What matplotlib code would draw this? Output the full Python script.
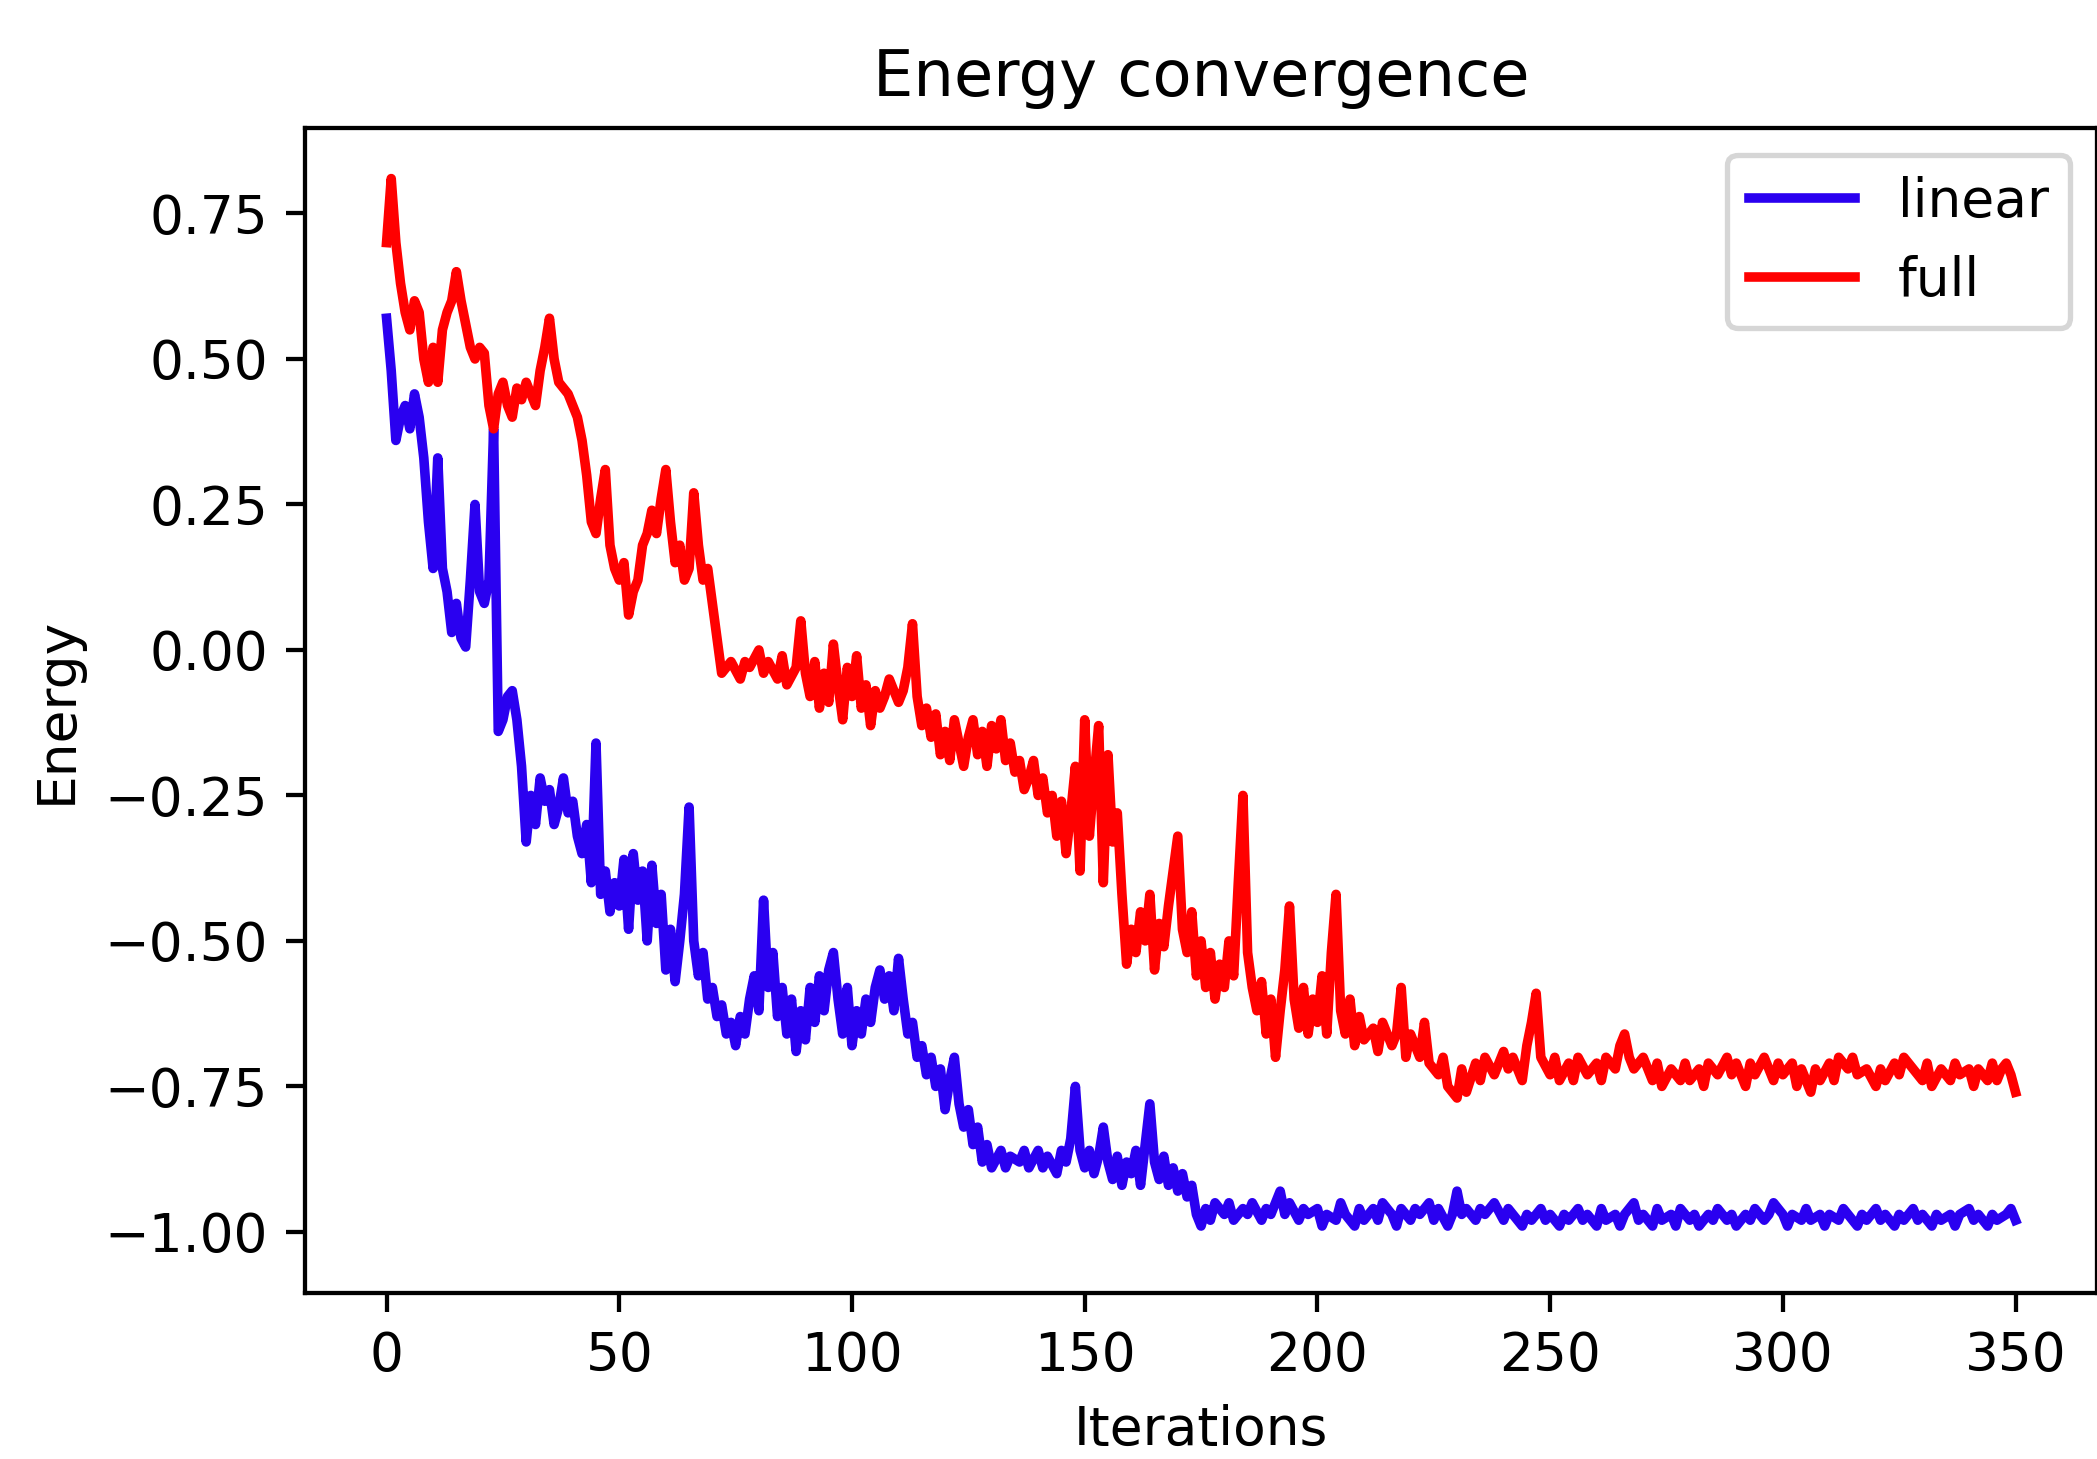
import matplotlib
matplotlib.use("Agg")
import matplotlib.pyplot as plt

# iteration / energy pairs
full_it = [0, 1, 2, 3, 4, 5, 6, 7, 8, 9, 10, 11, 12, 13, 14, 15, 16, 17, 18, 19,
           20, 21, 22, 23, 24, 25, 26, 27, 28, 29, 30, 31, 32, 33, 34, 35, 36, 37, 38, 39,
           40, 41, 42, 43, 44, 45, 46, 47, 48, 49, 50, 51, 52, 53, 54, 55, 56, 57, 58, 59,
           60, 61, 62, 63, 64, 65, 66, 67, 68, 69, 70, 71, 72, 74, 76, 77, 78, 80, 81, 82,
           84, 85, 86, 88, 89, 90, 91, 92, 93, 94, 95, 96, 97, 98, 99, 100, 101, 102, 103, 104,
           105, 106, 107, 108, 110, 111, 112, 113, 114, 115, 116, 117, 118, 119, 120, 121, 122, 123, 124, 125,
           126, 127, 128, 129, 130, 131, 132, 133, 134, 135, 136, 137, 138, 139, 140, 141, 142, 143, 144, 145,
           146, 147, 148, 149, 150, 151, 152, 153, 154, 155, 156, 157, 158, 159, 160, 161, 162, 163, 164, 165,
           166, 167, 168, 169, 170, 171, 172, 173, 174, 175, 176, 177, 178, 179, 180, 181, 182, 183, 184, 185,
           186, 187, 188, 189, 190, 191, 192, 193, 194, 195, 196, 197, 198, 199, 200, 201, 202, 203, 204, 205,
           206, 207, 208, 209, 210, 212, 213, 214, 216, 217, 218, 219, 220, 222, 223, 224, 226, 227, 228, 230,
           231, 232, 234, 235, 236, 238, 240, 241, 242, 244, 245, 246, 247, 248, 250, 251, 252, 254, 255, 256,
           258, 260, 261, 262, 264, 265, 266, 267, 268, 270, 272, 273, 274, 276, 278, 279, 280, 282, 283, 284,
           286, 288, 289, 290, 292, 293, 294, 296, 298, 299, 300, 302, 303, 304, 306, 307, 308, 310, 311, 312,
           314, 315, 316, 318, 320, 321, 322, 324, 325, 326, 328, 330, 331, 332, 334, 336, 337, 338, 340, 341,
           342, 344, 345, 346, 347, 348, 349, 350]
full_energy = [0.70, 0.81, 0.70, 0.63, 0.58, 0.55, 0.60, 0.58, 0.50, 0.46, 0.52, 0.46, 0.55, 0.58, 0.60, 0.65, 0.60, 0.56, 0.52, 0.50,
               0.52, 0.51, 0.42, 0.38, 0.44, 0.46, 0.42, 0.40, 0.45, 0.43, 0.46, 0.44, 0.42, 0.48, 0.52, 0.57, 0.50, 0.46, 0.45, 0.44,
               0.42, 0.40, 0.36, 0.30, 0.22, 0.20, 0.26, 0.31, 0.18, 0.14, 0.12, 0.15, 0.06, 0.10, 0.12, 0.18, 0.20, 0.24, 0.20, 0.26,
               0.31, 0.22, 0.15, 0.18, 0.12, 0.14, 0.27, 0.18, 0.12, 0.14, 0.08, 0.02, -0.04, -0.02, -0.05, -0.02, -0.03, 0.00, -0.04, -0.02,
               -0.05, -0.01, -0.06, -0.03, 0.05, -0.04, -0.08, -0.02, -0.10, -0.04, -0.09, 0.01, -0.06, -0.12, -0.03, -0.08, -0.01, -0.10, -0.06, -0.13,
               -0.07, -0.10, -0.08, -0.05, -0.09, -0.07, -0.03, 0.045, -0.08, -0.13, -0.10, -0.15, -0.11, -0.18, -0.14, -0.19, -0.12, -0.16, -0.20, -0.15,
               -0.12, -0.18, -0.14, -0.20, -0.13, -0.17, -0.12, -0.19, -0.16, -0.21, -0.19, -0.24, -0.22, -0.19, -0.25, -0.22, -0.28, -0.25, -0.32, -0.26,
               -0.35, -0.28, -0.20, -0.38, -0.12, -0.32, -0.22, -0.13, -0.40, -0.18, -0.33, -0.28, -0.42, -0.54, -0.48, -0.52, -0.45, -0.50, -0.42, -0.55,
               -0.47, -0.51, -0.44, -0.38, -0.32, -0.48, -0.52, -0.45, -0.56, -0.50, -0.58, -0.52, -0.60, -0.54, -0.58, -0.50, -0.56, -0.40, -0.25, -0.52,
               -0.58, -0.62, -0.57, -0.66, -0.60, -0.70, -0.62, -0.55, -0.44, -0.60, -0.65, -0.58, -0.66, -0.60, -0.64, -0.56, -0.66, -0.52, -0.42, -0.62,
               -0.66, -0.60, -0.68, -0.63, -0.67, -0.65, -0.69, -0.64, -0.68, -0.66, -0.58, -0.70, -0.66, -0.70, -0.64, -0.71, -0.73, -0.70, -0.75, -0.77,
               -0.72, -0.76, -0.71, -0.74, -0.70, -0.73, -0.69, -0.72, -0.70, -0.74, -0.68, -0.64, -0.59, -0.70, -0.73, -0.70, -0.74, -0.71, -0.74, -0.70,
               -0.73, -0.71, -0.74, -0.70, -0.72, -0.68, -0.66, -0.70, -0.72, -0.70, -0.74, -0.71, -0.75, -0.72, -0.74, -0.71, -0.74, -0.72, -0.75, -0.71,
               -0.73, -0.70, -0.73, -0.71, -0.75, -0.71, -0.73, -0.70, -0.74, -0.71, -0.73, -0.71, -0.75, -0.72, -0.76, -0.72, -0.74, -0.71, -0.74, -0.70,
               -0.72, -0.70, -0.73, -0.72, -0.75, -0.72, -0.74, -0.71, -0.73, -0.70, -0.72, -0.74, -0.71, -0.75, -0.72, -0.74, -0.71, -0.73, -0.72, -0.75,
               -0.72, -0.74, -0.71, -0.74, -0.72, -0.71, -0.73, -0.76]

linear_it = [0, 1, 2, 3, 4, 5, 6, 7, 8, 9, 10, 11, 12, 13, 14, 15, 16, 17, 18, 19,
             20, 21, 22, 23, 24, 25, 26, 27, 28, 29, 30, 31, 32, 33, 34, 35, 36, 37, 38, 39,
             40, 41, 42, 43, 44, 45, 46, 47, 48, 49, 50, 51, 52, 53, 54, 55, 56, 57, 58, 59,
             60, 61, 62, 63, 64, 65, 66, 67, 68, 69, 70, 71, 72, 73, 74, 75, 76, 77, 78, 79,
             80, 81, 82, 83, 84, 85, 86, 87, 88, 89, 90, 91, 92, 93, 94, 95, 96, 97, 98, 99,
             100, 101, 102, 103, 104, 105, 106, 107, 108, 109, 110, 111, 112, 113, 114, 115, 116, 117, 118, 119,
             120, 121, 122, 123, 124, 125, 126, 127, 128, 129, 130, 132, 133, 134, 136, 137, 138, 140, 141, 142,
             144, 145, 146, 147, 148, 149, 150, 151, 152, 153, 154, 155, 156, 157, 158, 159, 160, 161, 162, 163,
             164, 165, 166, 167, 168, 169, 170, 171, 172, 173, 174, 175, 176, 177, 178, 180, 181, 182, 184, 185,
             186, 188, 189, 190, 192, 193, 194, 196, 197, 198, 200, 201, 202, 204, 205, 206, 208, 209, 210, 212,
             213, 214, 216, 217, 218, 220, 221, 222, 224, 225, 226, 228, 229, 230, 231, 232, 234, 235, 236, 238,
             240, 241, 242, 244, 245, 246, 248, 249, 250, 252, 253, 254, 256, 257, 258, 260, 261, 262, 264, 265,
             266, 268, 269, 270, 272, 273, 274, 276, 277, 278, 280, 281, 282, 284, 285, 286, 288, 289, 290, 292,
             293, 294, 296, 297, 298, 300, 301, 302, 304, 305, 306, 308, 309, 310, 312, 313, 314, 316, 317, 318,
             320, 321, 322, 324, 325, 326, 328, 329, 330, 332, 333, 334, 336, 337, 338, 340, 341, 342, 344, 345,
             346, 348, 349, 350]
linear_energy = [0.57, 0.48, 0.36, 0.40, 0.42, 0.38, 0.44, 0.40, 0.33, 0.22, 0.14, 0.33, 0.14, 0.10, 0.03, 0.08, 0.02, 0.005, 0.12, 0.25,
                 0.10, 0.08, 0.12, 0.38, -0.14, -0.12, -0.08, -0.07, -0.12, -0.20, -0.33, -0.25, -0.30, -0.22, -0.26, -0.24, -0.30, -0.27, -0.22, -0.28,
                 -0.26, -0.32, -0.35, -0.30, -0.40, -0.16, -0.42, -0.38, -0.45, -0.40, -0.44, -0.36, -0.48, -0.35, -0.43, -0.38, -0.50, -0.37, -0.47, -0.42,
                 -0.55, -0.48, -0.57, -0.50, -0.42, -0.27, -0.50, -0.56, -0.52, -0.60, -0.58, -0.63, -0.61, -0.66, -0.64, -0.68, -0.63, -0.66, -0.60, -0.56,
                 -0.62, -0.43, -0.58, -0.52, -0.63, -0.58, -0.66, -0.60, -0.69, -0.62, -0.67, -0.58, -0.64, -0.56, -0.62, -0.55, -0.52, -0.60, -0.66, -0.58,
                 -0.68, -0.62, -0.66, -0.60, -0.64, -0.58, -0.55, -0.60, -0.56, -0.62, -0.53, -0.60, -0.66, -0.64, -0.70, -0.68, -0.73, -0.70, -0.75, -0.72,
                 -0.79, -0.74, -0.70, -0.78, -0.82, -0.79, -0.85, -0.82, -0.88, -0.85, -0.89, -0.86, -0.89, -0.87, -0.88, -0.86, -0.89, -0.86, -0.89, -0.87,
                 -0.90, -0.86, -0.88, -0.84, -0.75, -0.86, -0.89, -0.86, -0.90, -0.87, -0.82, -0.88, -0.91, -0.87, -0.92, -0.88, -0.90, -0.86, -0.92, -0.85,
                 -0.78, -0.88, -0.91, -0.87, -0.92, -0.89, -0.93, -0.90, -0.94, -0.92, -0.97, -0.99, -0.96, -0.98, -0.95, -0.97, -0.95, -0.98, -0.96, -0.97,
                 -0.95, -0.98, -0.96, -0.97, -0.93, -0.97, -0.95, -0.98, -0.96, -0.97, -0.96, -0.99, -0.97, -0.98, -0.95, -0.97, -0.99, -0.96, -0.98, -0.96,
                 -0.98, -0.95, -0.97, -0.99, -0.96, -0.98, -0.96, -0.97, -0.95, -0.98, -0.96, -0.99, -0.97, -0.93, -0.97, -0.96, -0.98, -0.96, -0.97, -0.95,
                 -0.98, -0.96, -0.97, -0.99, -0.97, -0.98, -0.96, -0.98, -0.97, -0.99, -0.97, -0.98, -0.96, -0.98, -0.97, -0.99, -0.96, -0.98, -0.97, -0.99,
                 -0.97, -0.95, -0.98, -0.97, -0.99, -0.96, -0.98, -0.97, -0.99, -0.96, -0.98, -0.97, -0.99, -0.97, -0.98, -0.96, -0.98, -0.97, -0.99, -0.97,
                 -0.98, -0.96, -0.98, -0.97, -0.95, -0.97, -0.99, -0.97, -0.98, -0.96, -0.98, -0.97, -0.99, -0.97, -0.98, -0.96, -0.97, -0.99, -0.97, -0.98,
                 -0.96, -0.98, -0.97, -0.99, -0.97, -0.98, -0.96, -0.98, -0.97, -0.99, -0.97, -0.98, -0.97, -0.99, -0.97, -0.96, -0.98, -0.97, -0.99, -0.97,
                 -0.98, -0.97, -0.96, -0.98]

# original was a small notebook figure blown up ~5.3x, so use a matching dpi
dpi = 384
fig = plt.figure(figsize=(2097 / dpi, 1459 / dpi), dpi=dpi)
ax = fig.add_axes([0.1455, 0.1138, 0.8545, 0.7985])

ax.plot(linear_it, linear_energy, color='#2a00f0', lw=1.8, label='linear')
ax.plot(full_it, full_energy, color='red', lw=1.8, label='full')

ax.set_xlim(-17.5, 367.5)
ax.set_ylim(-1.105, 0.897)
ax.set_xticks([0, 50, 100, 150, 200, 250, 300, 350])
ax.set_yticks([-1.0, -0.75, -0.5, -0.25, 0.0, 0.25, 0.5, 0.75])

ax.set_title("Energy convergence")
ax.set_xlabel("Iterations")
ax.set_ylabel("Energy")
ax.legend(loc='upper right')

fig.savefig("out.png", dpi=dpi)
